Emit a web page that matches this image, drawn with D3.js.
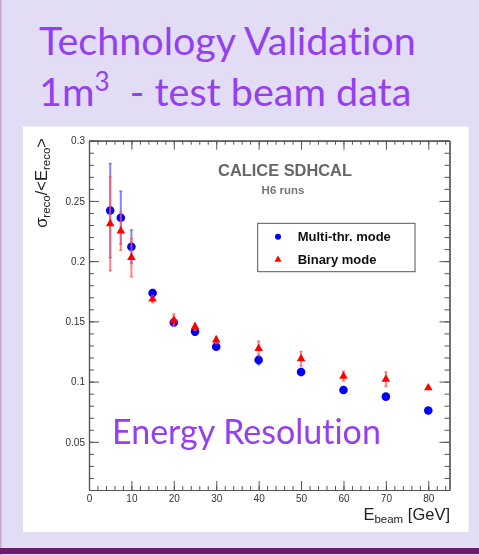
<!DOCTYPE html>
<html>
<head>
<meta charset="utf-8">
<script src="https://cdn.jsdelivr.net/npm/d3@7"></script>
<style>
  html, body { margin: 0; padding: 0; background: #e2dcf4; }
  svg { display: block; }
  .slide-text { font-variant-ligatures: none; font-feature-settings: "liga" 0, "clig" 0; }
</style>
</head>
<body>
<svg id="chart" width="479" height="555"></svg>
<script>
// Beam energies (GeV) and the measured relative energy resolution
const energies  = [5, 7.5, 10, 15, 20, 25, 30, 40, 50, 60, 70, 80];
const multiRes  = [0.242, 0.236, 0.212, 0.1735, 0.149, 0.1415, 0.129, 0.118, 0.108, 0.093, 0.0875, 0.076];
const multiErr  = [0.039, 0.022, 0.014, 0.003, 0.003, 0.003, 0.002, 0.004, 0.003, 0.002, 0.002, 0.002];
const binaryRes = [0.231, 0.225, 0.203, 0.1685, 0.151, 0.1455, 0.1345, 0.1275, 0.119, 0.1045, 0.102, 0.0948];
const binaryErr = [0.039, 0.016, 0.016, 0.003, 0.005, 0.003, 0.003, 0.006, 0.006, 0.004, 0.006, 0.001];

const xMajorTicks = [0, 10, 20, 30, 40, 50, 60, 70, 80];
const yMajorTicks = [0.05, 0.1, 0.15, 0.2, 0.25, 0.3];
const yTickLabels = ["0.05", "0.1", "0.15", "0.2", "0.25", "0.3"];
const seriesNames = ["Multi-thr. mode", "Binary mode"];

const svg = d3.select("#chart");
const W = 479, H = 555;

// slide background
svg.append("rect").attr("width", W).attr("height", H).attr("fill", "#e2dcf4");
svg.append("rect").attr("x", 0).attr("y", 0).attr("width", 1.5).attr("height", H).attr("fill", "#c3a8d8");
svg.append("rect").attr("x", 0).attr("y", 548).attr("width", W).attr("height", 6).attr("fill", "#6b1c6c");

// title
const purple = "#9440f0";
const title = svg.append("g")
  .attr("class", "slide-text")
  .attr("font-family", "Lato, 'Open Sans', sans-serif")
  .attr("fill", purple);
title.append("text").attr("x", 39).attr("y", 55).attr("font-size", 39.5)
  .text("Technology Validation");
const t2 = title.append("text").attr("x", 39).attr("y", 106).attr("font-size", 39.5);
t2.append("tspan").text("1m");
t2.append("tspan").attr("font-size", 26).attr("dy", -15).text("3");
t2.append("tspan").attr("dy", 15).text("\u00a0 - test beam data");

// plot panel
svg.append("rect").attr("x", 23).attr("y", 126.5).attr("width", 445.5).attr("height", 405.5).attr("fill", "#ffffff");

const defs = svg.append("defs");
defs.append("filter").attr("id", "soft").attr("x", "-5%").attr("y", "-5%").attr("width", "110%").attr("height", "110%")
  .append("feGaussianBlur").attr("stdDeviation", 0.45);

const plot = svg.append("g").attr("filter", "url(#soft)");

const x = d3.scaleLinear().domain([0, 85]).range([89, 449.5]);
const y = d3.scaleLinear().domain([0.01, 0.3]).range([490, 140.7]);

const axisColor = "#555";
const font = "'Liberation Sans', Arial, Helvetica, sans-serif";

const xMinor = d3.range(0, 85, 2);
const yMinor = d3.range(0.01, 0.3001, 0.01);

function styleAxis(g) {
  g.selectAll("path").attr("stroke", axisColor).attr("stroke-width", 1.2);
  g.selectAll("line").attr("stroke", axisColor).attr("stroke-width", 1);
  g.selectAll("text").attr("fill", "#333").attr("font-family", font).attr("font-size", 10);
}

// bottom axis
plot.append("g").attr("transform", `translate(0,${y.range()[0]})`)
  .call(d3.axisBottom(x).tickValues(xMinor).tickSizeInner(-4).tickSizeOuter(0).tickFormat(""))
  .call(styleAxis);
plot.append("g").attr("transform", `translate(0,${y.range()[0]})`)
  .call(d3.axisBottom(x).tickValues(xMajorTicks).tickSizeInner(-9).tickSizeOuter(0).tickPadding(4.5).tickFormat(d3.format("d")))
  .call(styleAxis);
// top axis
plot.append("g").attr("transform", `translate(0,${y.range()[1]})`)
  .call(d3.axisTop(x).tickValues(xMinor).tickSizeInner(-4).tickSizeOuter(0).tickFormat(""))
  .call(styleAxis);
plot.append("g").attr("transform", `translate(0,${y.range()[1]})`)
  .call(d3.axisTop(x).tickValues(xMajorTicks).tickSizeInner(-9).tickSizeOuter(0).tickFormat(""))
  .call(styleAxis);
// left axis
plot.append("g").attr("transform", `translate(${x.range()[0]},0)`)
  .call(d3.axisLeft(y).tickValues(yMinor).tickSizeInner(-5).tickSizeOuter(0).tickFormat(""))
  .call(styleAxis);
plot.append("g").attr("transform", `translate(${x.range()[0]},0)`)
  .call(d3.axisLeft(y).tickValues(yMajorTicks).tickSizeInner(-10).tickSizeOuter(0).tickPadding(4)
    .tickFormat((d, i) => yTickLabels[i]))
  .call(styleAxis);
// right axis
plot.append("g").attr("transform", `translate(${x.range()[1]},0)`)
  .call(d3.axisRight(y).tickValues(yMinor).tickSizeInner(-5).tickSizeOuter(0).tickFormat(""))
  .call(styleAxis);
plot.append("g").attr("transform", `translate(${x.range()[1]},0)`)
  .call(d3.axisRight(y).tickValues(yMajorTicks).tickSizeInner(-10).tickSizeOuter(0).tickFormat(""))
  .call(styleAxis);

// axis titles
const yTitle = plot.append("text")
  .attr("transform", "translate(47,138) rotate(-90)")
  .attr("text-anchor", "end")
  .attr("font-family", font).attr("font-size", 16.5).attr("fill", "#222");
yTitle.append("tspan").text("\u03c3");
yTitle.append("tspan").attr("font-size", 11.5).attr("dy", 3).text("reco");
yTitle.append("tspan").attr("dy", -3).text("/<E");
yTitle.append("tspan").attr("font-size", 11.5).attr("dy", 3).text("reco");
yTitle.append("tspan").attr("dy", -3).text(">");

const xTitle = plot.append("text")
  .attr("x", 450).attr("y", 520)
  .attr("text-anchor", "end")
  .attr("font-family", font).attr("font-size", 16.5).attr("fill", "#222");
xTitle.append("tspan").text("E");
xTitle.append("tspan").attr("font-size", 11.5).attr("dy", 3).text("beam");
xTitle.append("tspan").attr("dy", -3).text(" [GeV]");

// labels inside the frame
plot.append("text").attr("x", 285).attr("y", 176).attr("text-anchor", "middle")
  .attr("font-family", font).attr("font-weight", "bold").attr("font-size", 16.4).attr("fill", "#666")
  .text("CALICE SDHCAL");
plot.append("text").attr("x", 283).attr("y", 194).attr("text-anchor", "middle")
  .attr("font-family", font).attr("font-weight", "bold").attr("font-size", 11.5).attr("fill", "#777")
  .text("H6 runs");

// data series
const series = [
  { name: seriesNames[0], res: multiRes, err: multiErr, color: "#0000ff", bar: "#5a5aff", shape: "circle" },
  { name: seriesNames[1], res: binaryRes, err: binaryErr, color: "#ff0000", bar: "#ff5a5a", shape: "triangle" }
];

const tri = d3.symbol().type(d3.symbolTriangle);

series.forEach(s => {
  const pts = energies.map((e, i) => ({ e, v: s.res[i], err: s.err[i] }));
  const g = plot.append("g");
  g.selectAll("line.err").data(pts).enter().append("line")
    .attr("class", "err")
    .attr("x1", d => x(d.e)).attr("x2", d => x(d.e))
    .attr("y1", d => y(d.v + d.err)).attr("y2", d => y(d.v - d.err))
    .attr("stroke", s.bar).attr("stroke-width", 2).attr("opacity", 0.75);
  g.selectAll("line.cap").data(pts.flatMap(d => [{ e: d.e, v: d.v + d.err }, { e: d.e, v: d.v - d.err }]))
    .enter().append("line").attr("class", "cap")
    .attr("x1", d => x(d.e) - 1.5).attr("x2", d => x(d.e) + 1.5)
    .attr("y1", d => y(d.v)).attr("y2", d => y(d.v))
    .attr("stroke", s.bar).attr("stroke-width", 1.5).attr("opacity", 0.75);
  if (s.shape === "circle") {
    g.selectAll("circle").data(pts).enter().append("circle")
      .attr("cx", d => x(d.e)).attr("cy", d => y(d.v)).attr("r", 4.3)
      .attr("fill", s.color);
  } else {
    g.selectAll("path.mk").data(pts).enter().append("path").attr("class", "mk")
      .attr("d", tri.size(32))
      .attr("transform", d => `translate(${x(d.e)},${y(d.v)})`)
      .attr("fill", s.color);
  }
});

// legend
const leg = plot.append("g");
leg.append("rect").attr("x", 257.7).attr("y", 223.3).attr("width", 157.3).attr("height", 48.4)
  .attr("fill", "#fff").attr("stroke", "#555").attr("stroke-width", 1);
series.forEach((s, i) => {
  const cy = 236.7 + i * 23;
  if (s.shape === "circle") {
    leg.append("circle").attr("cx", 278).attr("cy", cy).attr("r", 3).attr("fill", s.color);
  } else {
    leg.append("path").attr("d", d3.symbol().type(d3.symbolTriangle).size(22)())
      .attr("transform", `translate(278,${cy})`).attr("fill", s.color);
  }
  leg.append("text").attr("x", 297.7).attr("y", cy + 4.5)
    .attr("font-family", font).attr("font-weight", "bold").attr("font-size", 13).attr("fill", "#111")
    .text(s.name);
});

// overlay caption
svg.append("text").attr("class", "slide-text").attr("x", 112).attr("y", 444)
  .attr("font-family", "Lato, 'Open Sans', sans-serif").attr("font-size", 34).attr("fill", purple)
  .text("Energy Resolution");
</script>
</body>
</html>
